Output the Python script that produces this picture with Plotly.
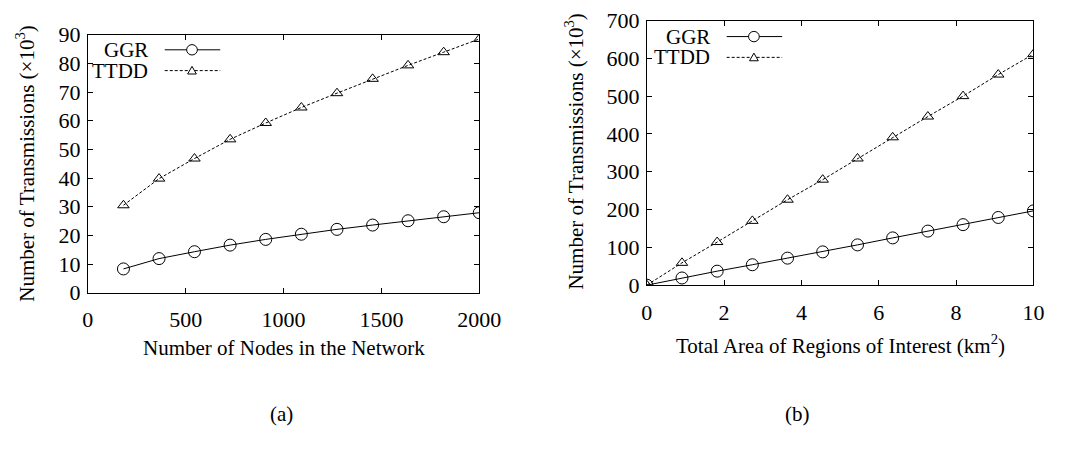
import plotly.graph_objects as go

# ---- data ----
nodes = [182, 364, 545, 727, 909, 1091, 1273, 1455, 1636, 1818, 2000]
ggr_nodes = [8.3, 11.9, 14.3, 16.6, 18.6, 20.4, 22.1, 23.6, 25.1, 26.5, 27.9]
ttdd_nodes = [30.5, 39.8, 46.8, 53.5, 59.2, 64.6, 69.6, 74.6, 79.3, 83.9, 88.5]

area = [0, 0.91, 1.82, 2.73, 3.64, 4.55, 5.45, 6.36, 7.27, 8.18, 9.09, 10]
ggr_area = [0, 19, 37, 54, 71.5, 88, 106.5, 125, 143, 160, 179, 196.5]
ttdd_area = [0, 59, 114, 170, 226, 279, 335, 391, 446, 500, 557, 611]

series_names = ["GGR", "TTDD"]
x_ticks_a = [0, 500, 1000, 1500, 2000]
y_ticks_a = list(range(0, 91, 10))
x_ticks_b = [0, 2, 4, 6, 8, 10]
y_ticks_b = list(range(0, 701, 100))

W, H = 1071, 456
FONT = "'Times New Roman', 'Liberation Serif', Times, serif"
FS = 21
TFS = 22


def px(x):
    return x / W


def py(y):
    return 1 - y / H


fig = go.Figure()

ggr_style = dict(mode="lines+markers", line=dict(color="black", width=1),
                 marker=dict(symbol="circle-open", size=12, color="black", line=dict(width=1)))
ttdd_style = dict(mode="lines+markers", line=dict(color="black", width=1, dash="3px,2px"),
                  marker=dict(symbol="triangle-up-open", size=10, color="black", line=dict(width=1)))

fig.add_trace(go.Scatter(x=nodes, y=ggr_nodes, name=series_names[0], xaxis="x", yaxis="y", **ggr_style))
fig.add_trace(go.Scatter(x=nodes, y=ttdd_nodes, name=series_names[1], xaxis="x", yaxis="y", **ttdd_style))
fig.add_trace(go.Scatter(x=area, y=ggr_area, name=series_names[0], xaxis="x2", yaxis="y2", **ggr_style))
fig.add_trace(go.Scatter(x=area, y=ttdd_area, name=series_names[1], xaxis="x2", yaxis="y2", **ttdd_style))

axis_common = dict(showline=True, linecolor="black", linewidth=1, mirror="ticks",
                   ticks="inside", ticklen=5, tickcolor="black", showgrid=False,
                   zeroline=False, tickfont=dict(family=FONT, size=TFS, color="black"))

# panel geometry (pixels)
A = dict(l=84, r=486, t=24, b=297)
B = dict(l=658, r=1055, t=9, b=289)

fig.update_layout(
    width=W, height=H, margin=dict(l=0, r=0, t=0, b=0),
    paper_bgcolor="white", plot_bgcolor="white", showlegend=False,
    font=dict(family=FONT, size=FS, color="black"),
    xaxis=dict(domain=[px(A["l"]), px(A["r"])], range=[0, 2000], tickvals=x_ticks_a,
               anchor="y", ticklabelstandoff=7, **axis_common),
    yaxis=dict(domain=[py(A["b"]), py(A["t"])], range=[0, 90], tickvals=y_ticks_a,
               anchor="x", ticklabelstandoff=2, **axis_common),
    xaxis2=dict(domain=[px(B["l"]), px(B["r"])], range=[0, 10], tickvals=x_ticks_b,
                anchor="y2", ticklabelstandoff=7, **axis_common),
    yaxis2=dict(domain=[py(B["b"]), py(B["t"])], range=[0, 700], tickvals=y_ticks_b,
                anchor="x2", ticklabelstandoff=2, **axis_common),
)

annotations = []
shapes = []


def text(x, y, s, angle=0, xanchor="center"):
    annotations.append(dict(x=px(x), y=py(y), xref="paper", yref="paper", text=s,
                            showarrow=False, textangle=angle, xanchor=xanchor, yanchor="middle",
                            font=dict(family=FONT, size=FS, color="black")))


# axis titles & captions
text(285, 356, "Number of Nodes in the Network")
text(857, 352, "Total Area of Regions of Interest (km<sup>2</sup>)")
text(20, 160, "Number of Transmissions (×10<sup>3</sup>)", angle=-90)
text(584, 148, "Number of Transmissions (×10<sup>3</sup>)", angle=-90)
text(283, 425, "(a)")
text(813, 425, "(b)")


# legends (gnuplot style: label on left, sample on right)
def legend(text_right, line_l, line_r, mark_x, y_rows):
    for i, (name, y) in enumerate(zip(series_names, y_rows)):
        text(text_right, y, name, xanchor="right")
        shapes.append(dict(type="line", xref="paper", yref="paper",
                           x0=px(line_l), x1=px(line_r), y0=py(y), y1=py(y),
                           line=dict(color="black", width=1, dash="solid" if i == 0 else "3px,2px")))
        if i == 0:
            r = 5.5
            shapes.append(dict(type="circle", xref="paper", yref="paper",
                               x0=px(mark_x - r), x1=px(mark_x + r), y0=py(y + r), y1=py(y - r),
                               line=dict(color="black", width=1), fillcolor="white"))
        else:
            h = 4.5
            path = "M {} {} L {} {} L {} {} Z".format(
                px(mark_x - h), py(y + h * 0.8), px(mark_x + h), py(y + h * 0.8),
                px(mark_x), py(y - h))
            shapes.append(dict(type="path", xref="paper", yref="paper", path=path,
                               line=dict(color="black", width=1), fillcolor="white"))


legend(148, 163, 220, 191, [40, 62])
legend(725, 740, 797, 768, [26, 48])

fig.update_layout(annotations=annotations, shapes=shapes)
fig.write_html("out.html")
